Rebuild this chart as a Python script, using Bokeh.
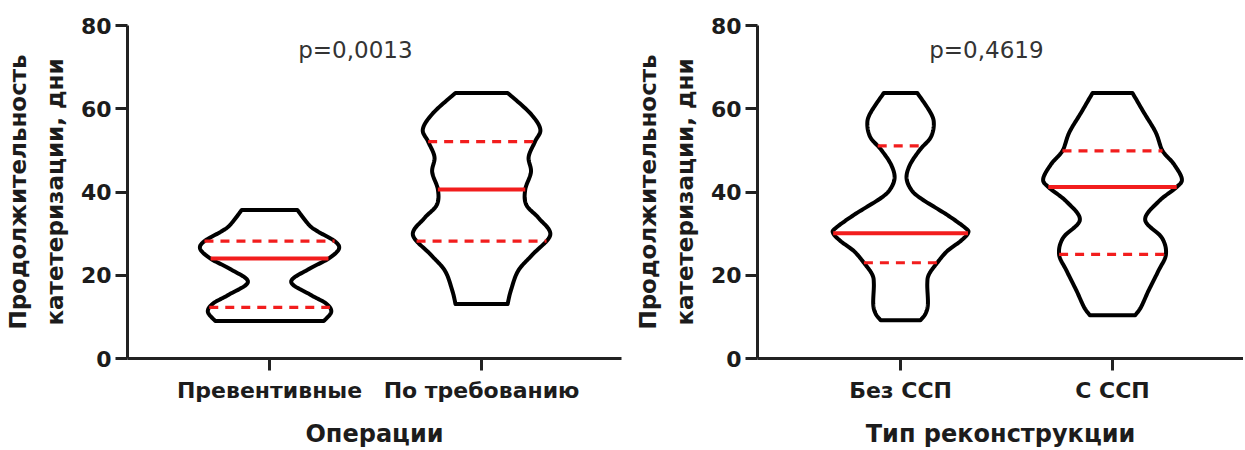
import numpy as np
from bokeh.plotting import figure
from bokeh.layouts import row
from bokeh.models import FixedTicker, Range1d, Label
from bokeh.embed import file_html
from bokeh.resources import INLINE

# ---------------- data ----------------
left_categories = ["Превентивные", "По требованию"]
right_categories = ["Без ССП", "С ССП"]
left_xlabel = "Операции"
right_xlabel = "Тип реконструкции"
y_label = "Продолжительность\nкатетеризации, дни"
p_values = ["p=0,0013", "p=0,4619"]
y_ticks = [0, 20, 40, 60, 80]

# violin outlines: days (top -> bottom) and half-width (category units)
prev_y = [35.7, 32.1, 30.5, 28.2, 26.3, 23.9, 21.5, 18.4, 15.2, 13.2, 11.2, 9.0]
prev_w = [0.131, 0.186, 0.228, 0.307, 0.327, 0.275, 0.186, 0.102, 0.197, 0.267, 0.291, 0.256]
prev_stats = [12.3, 24.0, 28.2]          # Q1, median, Q3

demand_y = [63.8, 59.0, 55.1, 52.1, 48.4, 44.8, 40.6, 36.9, 33.7, 29.7, 25.0, 21.1, 16.3, 13.1]
demand_w = [0.123, 0.228, 0.277, 0.252, 0.222, 0.233, 0.206, 0.211, 0.270, 0.324, 0.241, 0.173, 0.138, 0.123]
demand_stats = [28.2, 40.6, 52.1]

no_ssp_y = [63.8, 59.0, 56.3, 53.1, 50.3, 46.8, 43.6, 40.8, 38.5, 34.5, 31.3, 30.1, 28.2, 25.8, 23.0, 20.2, 17.9, 13.1, 10.8, 9.2]
no_ssp_w = [0.079, 0.142, 0.157, 0.142, 0.094, 0.047, 0.028, 0.047, 0.094, 0.220, 0.307, 0.318, 0.283, 0.220, 0.173, 0.134, 0.126, 0.129, 0.118, 0.094]
no_ssp_stats = [23.0, 30.1, 51.1]

ssp_y = [63.8, 59.0, 54.3, 49.9, 46.8, 43.2, 41.2, 37.7, 33.3, 29.0, 25.0, 21.1, 16.3, 12.3, 10.4]
ssp_w = [0.094, 0.149, 0.204, 0.236, 0.288, 0.327, 0.303, 0.217, 0.154, 0.233, 0.252, 0.217, 0.170, 0.134, 0.107]
ssp_stats = [25.0, 41.2, 49.9]

FONT = "DejaVu Sans"
TXT = "#1c1c1c"
AX = "#222222"
RED = "#f21d1d"


def smooth_side(ys, ws, n=14):
    """Catmull-Rom rendering of the read outline points."""
    pts = np.column_stack([ws, ys]).astype(float)
    P = np.vstack([pts[0], pts, pts[-1]])
    out = []
    for i in range(1, len(P) - 2):
        p0, p1, p2, p3 = P[i - 1], P[i], P[i + 1], P[i + 2]
        for t in np.linspace(0, 1, n, endpoint=False):
            t2, t3 = t * t, t * t * t
            out.append(0.5 * ((2 * p1) + (-p0 + p2) * t + (2 * p0 - 5 * p1 + 4 * p2 - p3) * t2
                              + (-p0 + 3 * p1 - 3 * p2 + p3) * t3))
    out.append(pts[-1])
    out = np.array(out)
    return out[:, 1], out[:, 0]


def violin(p, center, ys, ws, stats):
    sy, sw = smooth_side(ys, ws)
    xs = np.concatenate([center + sw, (center - sw)[::-1]])
    yy = np.concatenate([sy, sy[::-1]])
    p.patch(xs, yy, fill_color="white", line_color="black", line_width=4, line_join="round")
    order = np.argsort(sy)
    for k, s in enumerate(stats):
        hw = float(np.interp(s, sy[order], sw[order]))
        if k == 1:
            p.line([center - hw, center + hw], [s, s], line_color=RED, line_width=4)
        else:
            p.line([center - hw, center + hw], [s, s], line_color=RED, line_width=3.2,
                   line_dash="9 7")


def make_fig(width, border_left, border_right, xr, cats, xlabel, ptext):
    p = figure(width=width, height=450, x_range=Range1d(*xr), y_range=Range1d(0, 80),
               output_backend="svg", toolbar_location=None,
               min_border_left=border_left, min_border_right=border_right,
               min_border_top=25, min_border_bottom=88)
    p.outline_line_color = None
    p.xgrid.grid_line_color = None
    p.ygrid.grid_line_color = None
    p.background_fill_color = "white"
    p.border_fill_color = "white"

    p.xaxis.ticker = FixedTicker(ticks=[1, 2])
    p.xaxis.major_label_overrides = {1: cats[0], 2: cats[1]}
    p.yaxis.ticker = FixedTicker(ticks=y_ticks)
    for ax in (p.xaxis, p.yaxis):
        ax.axis_line_width = 3
        ax.axis_line_color = AX
        ax.major_tick_line_width = 3
        ax.major_tick_line_color = AX
        ax.major_tick_out = 12
        ax.major_tick_in = 0
        ax.minor_tick_line_color = None
        ax.major_label_text_font = FONT
        ax.major_label_text_font_style = "bold"
        ax.major_label_text_color = TXT
        ax.axis_label_text_font = FONT
        ax.axis_label_text_font_style = "bold"
        ax.axis_label_text_color = TXT
    p.xaxis.major_label_text_font_size = "22px"
    p.yaxis.major_label_text_font_size = "22px"
    p.xaxis.major_label_standoff = 7
    p.yaxis.major_label_standoff = 4
    p.xaxis.axis_label = xlabel
    p.xaxis.axis_label_text_font_size = "24px"
    p.xaxis.axis_label_standoff = 14
    p.yaxis.axis_label = y_label
    p.yaxis.axis_label_text_font_size = "23px"
    p.yaxis.axis_label_text_line_height = 1.4
    p.yaxis.axis_label_standoff = 10

    p.add_layout(Label(x=1.405, y=74.0, text=ptext, text_align="center", text_baseline="middle",
                       text_font=FONT, text_font_size="23px", text_color="#333333"))
    return p


p1 = make_fig(622, 127, 1, (0.330, 2.660), left_categories, left_xlabel, p_values[0])
violin(p1, 1, prev_y, prev_w, prev_stats)
violin(p1, 2, demand_y, demand_w, demand_stats)

p2 = make_fig(621, 135, 0, (0.325, 2.618), right_categories, right_xlabel, p_values[1])
violin(p2, 1, no_ssp_y, no_ssp_w, no_ssp_stats)
violin(p2, 2, ssp_y, ssp_w, ssp_stats)

layout = row(p1, p2)
open("out.html", "w").write(file_html(layout, INLINE))
